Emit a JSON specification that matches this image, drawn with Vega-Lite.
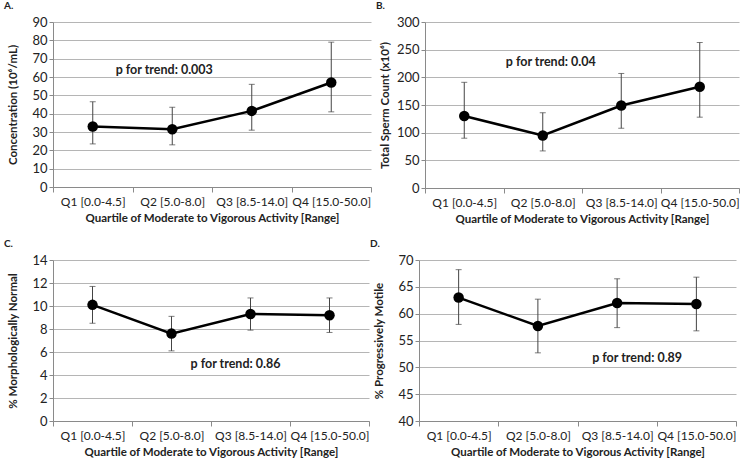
{
  "$schema": "https://vega.github.io/schema/vega-lite/v6.json",
  "padding": {"left": 4, "top": 1, "right": 2, "bottom": 2},
  "config": {
    "font": "Lato",
    "view": {"stroke": null},
    "axis": {
      "labelFont": "Lato", "titleFont": "Lato",
      "labelFontSize": 12, "titleFontSize": 11.5, "titleFontWeight": "bold",
      "labelColor": "#222", "titleColor": "#222",
      "domainColor": "#8a8a8a", "tickColor": "#8a8a8a", "gridColor": "#b5b5b5"
    },
    "axisX": {"grid": false, "tickBand": "extent", "tickSize": 5, "labelAngle": 0, "labelPadding": 4, "titlePadding": 5},
    "axisY": {"tickSize": 4, "labelPadding": 2, "titlePadding": 7, "labelFontSize": 13, "minExtent": 28, "maxExtent": 28},
    "title": {"fontSize": 10, "fontWeight": "bold", "anchor": "start", "frame": "bounds", "dx": -3, "offset": 5, "color": "#222"}
  },
  "datasets": {
    "d": [
      {"panel": "A", "q": "Q1 [0.0-4.5]", "mean": 33, "lo": 23.5, "hi": 46.5},
      {"panel": "A", "q": "Q2 [5.0-8.0]", "mean": 31.5, "lo": 23, "hi": 43.5},
      {"panel": "A", "q": "Q3 [8.5-14.0]", "mean": 41.5, "lo": 31, "hi": 56},
      {"panel": "A", "q": "Q4 [15.0-50.0]", "mean": 57, "lo": 41, "hi": 79},
      {"panel": "B", "q": "Q1 [0.0-4.5]", "mean": 130, "lo": 90, "hi": 191},
      {"panel": "B", "q": "Q2 [5.0-8.0]", "mean": 95, "lo": 67, "hi": 136},
      {"panel": "B", "q": "Q3 [8.5-14.0]", "mean": 149, "lo": 108, "hi": 207},
      {"panel": "B", "q": "Q4 [15.0-50.0]", "mean": 183, "lo": 128, "hi": 263},
      {"panel": "C", "q": "Q1 [0.0-4.5]", "mean": 10.1, "lo": 8.5, "hi": 11.7},
      {"panel": "C", "q": "Q2 [5.0-8.0]", "mean": 7.6, "lo": 6.1, "hi": 9.1},
      {"panel": "C", "q": "Q3 [8.5-14.0]", "mean": 9.3, "lo": 7.9, "hi": 10.7},
      {"panel": "C", "q": "Q4 [15.0-50.0]", "mean": 9.2, "lo": 7.7, "hi": 10.7},
      {"panel": "D", "q": "Q1 [0.0-4.5]", "mean": 63, "lo": 58, "hi": 68.2},
      {"panel": "D", "q": "Q2 [5.0-8.0]", "mean": 57.7, "lo": 52.7, "hi": 62.7},
      {"panel": "D", "q": "Q3 [8.5-14.0]", "mean": 62, "lo": 57.4, "hi": 66.5},
      {"panel": "D", "q": "Q4 [15.0-50.0]", "mean": 61.8, "lo": 56.8, "hi": 66.8}
    ]
  },
  "spacing": 14,
  "vconcat": [
    {
      "spacing": 4,
      "hconcat": [
        {
          "width": 318, "height": 165,
          "title": {"text": "A."},
          "data": {"name": "d"},
          "transform": [{"filter": "datum.panel === 'A'"}],
          "encoding": {"x": {"field": "q", "type": "nominal", "sort": null, "scale": {"paddingInner": 0, "paddingOuter": 0}, "title": "Quartile of Moderate to Vigorous Activity [Range]"}},
          "layer": [
            {"mark": {"type": "errorbar", "color": "#444", "ticks": {"size": 6}, "rule": {"strokeWidth": 1}},
             "encoding": {"y": {"field": "lo", "type": "quantitative", "scale": {"domain": [0, 90], "nice": false}, "axis": {"tickCount": 9}, "title": "Concentration (10⁶/mL)"}, "y2": {"field": "hi"}}},
            {"mark": {"type": "line", "color": "black", "strokeWidth": 2.5},
             "encoding": {"y": {"field": "mean", "type": "quantitative", "scale": {"domain": [0, 90], "nice": false}, "axis": {"tickCount": 9}, "title": "Concentration (10⁶/mL)"}}},
            {"mark": {"type": "point", "filled": true, "color": "black", "size": 110, "opacity": 1},
             "encoding": {"y": {"field": "mean", "type": "quantitative", "scale": {"domain": [0, 90], "nice": false}, "axis": {"tickCount": 9}, "title": "Concentration (10⁶/mL)"}}},
            {"data": {"values": [{"label": "p for trend: 0.003"}]},
             "mark": {"type": "text", "fontSize": 12.5, "fontWeight": "bold", "color": "#222", "dx": -8},
             "encoding": {"x": {"datum": "Q2 [5.0-8.0]"}, "y": {"datum": 64}, "text": {"field": "label"}}}
          ]
        },
        {
          "width": 314, "height": 166,
          "title": {"text": "B."},
          "data": {"name": "d"},
          "transform": [{"filter": "datum.panel === 'B'"}],
          "encoding": {"x": {"field": "q", "type": "nominal", "sort": null, "scale": {"paddingInner": 0, "paddingOuter": 0}, "title": "Quartile of Moderate to Vigorous Activity [Range]"}},
          "layer": [
            {"mark": {"type": "errorbar", "color": "#444", "ticks": {"size": 6}, "rule": {"strokeWidth": 1}},
             "encoding": {"y": {"field": "lo", "type": "quantitative", "scale": {"domain": [0, 300], "nice": false}, "axis": {"tickCount": 6}, "title": "Total Sperm Count (x10⁶)"}, "y2": {"field": "hi"}}},
            {"mark": {"type": "line", "color": "black", "strokeWidth": 2.5},
             "encoding": {"y": {"field": "mean", "type": "quantitative", "scale": {"domain": [0, 300], "nice": false}, "axis": {"tickCount": 6}, "title": "Total Sperm Count (x10⁶)"}}},
            {"mark": {"type": "point", "filled": true, "color": "black", "size": 110, "opacity": 1},
             "encoding": {"y": {"field": "mean", "type": "quantitative", "scale": {"domain": [0, 300], "nice": false}, "axis": {"tickCount": 6}, "title": "Total Sperm Count (x10⁶)"}}},
            {"data": {"values": [{"label": "p for trend: 0.04"}]},
             "mark": {"type": "text", "fontSize": 12.5, "fontWeight": "bold", "color": "#222", "dx": 8},
             "encoding": {"x": {"datum": "Q2 [5.0-8.0]"}, "y": {"datum": 228}, "text": {"field": "label"}}}
          ]
        }
      ]
    },
    {
      "spacing": 0,
      "hconcat": [
        {
          "width": 316, "height": 161,
          "title": {"text": "C."},
          "data": {"name": "d"},
          "transform": [{"filter": "datum.panel === 'C'"}],
          "encoding": {"x": {"field": "q", "type": "nominal", "sort": null, "scale": {"paddingInner": 0, "paddingOuter": 0}, "title": "Quartile of Moderate to Vigorous Activity [Range]"}},
          "layer": [
            {"mark": {"type": "errorbar", "color": "#444", "ticks": {"size": 6}, "rule": {"strokeWidth": 1}},
             "encoding": {"y": {"field": "lo", "type": "quantitative", "scale": {"domain": [0, 14], "nice": false}, "axis": {"tickCount": 7}, "title": "% Morphologically Normal"}, "y2": {"field": "hi"}}},
            {"mark": {"type": "line", "color": "black", "strokeWidth": 2.5},
             "encoding": {"y": {"field": "mean", "type": "quantitative", "scale": {"domain": [0, 14], "nice": false}, "axis": {"tickCount": 7}, "title": "% Morphologically Normal"}}},
            {"mark": {"type": "point", "filled": true, "color": "black", "size": 110, "opacity": 1},
             "encoding": {"y": {"field": "mean", "type": "quantitative", "scale": {"domain": [0, 14], "nice": false}, "axis": {"tickCount": 7}, "title": "% Morphologically Normal"}}},
            {"data": {"values": [{"label": "p for trend: 0.86"}]},
             "mark": {"type": "text", "fontSize": 12.5, "fontWeight": "bold", "color": "#222", "dx": -15},
             "encoding": {"x": {"datum": "Q3 [8.5-14.0]"}, "y": {"datum": 5.0}, "text": {"field": "label"}}}
          ]
        },
        {
          "width": 317, "height": 161,
          "title": {"text": "D."},
          "data": {"name": "d"},
          "transform": [{"filter": "datum.panel === 'D'"}],
          "encoding": {"x": {"field": "q", "type": "nominal", "sort": null, "scale": {"paddingInner": 0, "paddingOuter": 0}, "title": "Quartile of Moderate to Vigorous Activity [Range]"}},
          "layer": [
            {"mark": {"type": "errorbar", "color": "#444", "ticks": {"size": 6}, "rule": {"strokeWidth": 1}},
             "encoding": {"y": {"field": "lo", "type": "quantitative", "scale": {"domain": [40, 70], "zero": false, "nice": false}, "axis": {"tickCount": 6}, "title": "% Progressively Motile"}, "y2": {"field": "hi"}}},
            {"mark": {"type": "line", "color": "black", "strokeWidth": 2.5},
             "encoding": {"y": {"field": "mean", "type": "quantitative", "scale": {"domain": [40, 70], "zero": false, "nice": false}, "axis": {"tickCount": 6}, "title": "% Progressively Motile"}}},
            {"mark": {"type": "point", "filled": true, "color": "black", "size": 110, "opacity": 1},
             "encoding": {"y": {"field": "mean", "type": "quantitative", "scale": {"domain": [40, 70], "zero": false, "nice": false}, "axis": {"tickCount": 6}, "title": "% Progressively Motile"}}},
            {"data": {"values": [{"label": "p for trend: 0.89"}]},
             "mark": {"type": "text", "fontSize": 12.5, "fontWeight": "bold", "color": "#222", "dx": 20},
             "encoding": {"x": {"datum": "Q3 [8.5-14.0]"}, "y": {"datum": 51.7}, "text": {"field": "label"}}}
          ]
        }
      ]
    }
  ]
}
